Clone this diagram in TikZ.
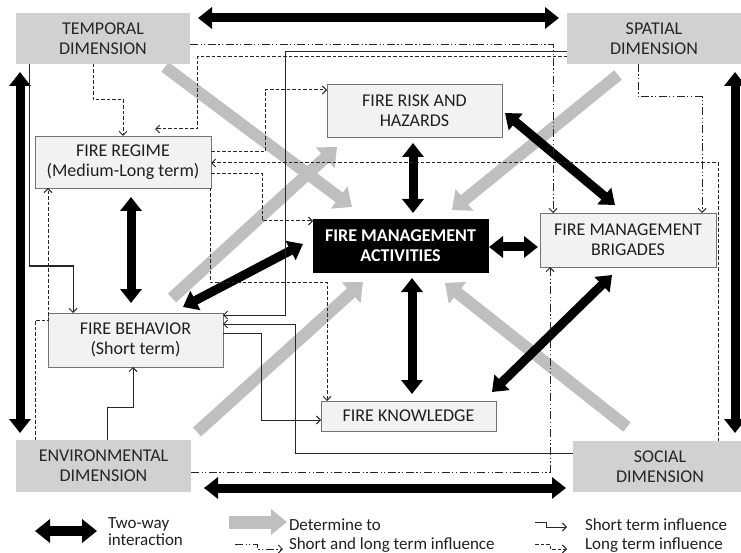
\documentclass[tikz,border=0pt]{standalone}
\usepackage{fontspec}
\setmainfont{Carlito}
\usetikzlibrary{arrows.meta,calc}
\pgfdeclarelayer{bgl}
\pgfdeclarelayer{midl}
\pgfsetlayers{bgl,midl,main}
\begin{document}
\begin{tikzpicture}[x=1pt,y=-1pt,
  font=\fontsize{18}{20}\selectfont,
  dimbox/.style={fill=black!18, draw=none, align=center, inner sep=0pt, outer sep=0pt, text=black!85},
  fbox/.style={fill=black!5, draw=black!55, line width=0.9pt, align=center, inner sep=0pt, outer sep=0pt, text=black!88},
  thinln/.style={draw=black!85, line width=1pt},
  st/.style={thinln, -{Straight Barb[length=4pt,width=8pt]}},
  lt/.style={st, dash pattern=on 3.5pt off 2pt},
  sl/.style={st, dash pattern=on 8pt off 2.5pt on 1.2pt off 2.5pt on 1.2pt off 2.5pt},
  tw/.style={draw=black, line width=9pt, {Triangle[length=14pt,width=21pt]}-{Triangle[length=14pt,width=21pt]}},
  det/.style={draw=black!25, line width=12pt, -{Triangle[length=16pt,width=27pt]}},
  legtxt/.style={font=\fontsize{17}{17}\selectfont, text=black!88, inner sep=0pt, outer sep=0pt}
]
\useasboundingbox (0,0) rectangle (741,553);

% dimension boxes
\node[dimbox, minimum width=174pt, minimum height=51pt] (T) at (103,38.5) {TEMPORAL\\DIMENSION};
\node[dimbox, minimum width=174pt, minimum height=51pt] (S) at (654,38.5) {SPATIAL\\DIMENSION};
\node[dimbox, minimum width=175pt, minimum height=52pt] (E) at (103.5,466) {ENVIRONMENTAL\\DIMENSION};
\node[dimbox, minimum width=174pt, minimum height=51pt] (SO) at (660,466.5) {SOCIAL\\DIMENSION};

% inner boxes
\node[fbox, minimum width=176pt, minimum height=52pt] (REG) at (123,162) {FIRE REGIME\\(Medium-Long term)};
\node[fbox, minimum width=175pt, minimum height=54pt] (BEH) at (135.5,340) {FIRE BEHAVIOR\\(Short term)};
\node[fbox, minimum width=175pt, minimum height=53pt] (R) at (414.5,110.5) {FIRE RISK AND\\HAZARDS};
\node[fill=black, draw=black, text=white, font=\fontsize{18}{20}\selectfont\bfseries, align=center, inner sep=0pt, outer sep=0pt, minimum width=175pt, minimum height=53pt] (ACT) at (400.5,245.5) {FIRE MANAGEMENT\\ACTIVITIES};
\node[fbox, minimum width=176pt, minimum height=54pt] (B) at (628,240) {FIRE MANAGEMENT\\BRIGADES};
\node[fbox, minimum width=175pt, minimum height=30pt] (K) at (408.5,416) {FIRE KNOWLEDGE};

% gray "determine to" arrows
\begin{pgfonlayer}{bgl}
\draw[det] ($(T.south east)+(-25,3)$) -- ($(ACT.north west)+(39,-12)$);
\draw[det] ($(S.south west)+(51,11)$) -- ($(ACT.north east)+(-36,-9)$);
\draw[det] ($(E.north east)+(6,-8)$) -- ($(ACT.south)+(-37.5,10)$);
\draw[det] ($(SO.north)+(-33,-14)$) -- ($(ACT.south east)+(-43,11)$);
\draw[det] ($(BEH.north east)+(-51,-15)$) -- ($(R.south west)+(10,10)$);
\end{pgfonlayer}

% black two-way arrows
\begin{pgfonlayer}{midl}
\draw[tw] ($(T.north east)+(8,5)$) -- ($(S.north west)+(-8,5)$);
\draw[tw] ($(E.south east)+(13,-4)$) -- ($(SO.south west)+(-7,-4)$);
\draw[tw] ($(T.south west)+(4,8)$) -- ($(E.north west)+(4,-7)$);
\draw[tw] ($(S.south east)+(-6,8)$) -- ($(SO.north east)+(-12,-8)$);
\draw[tw] ($(REG.south)+(8,9)$) -- ($(BEH.north)+(-4.5,-10)$);
\draw[tw] ($(R.south)+(-1.5,6)$) -- ($(ACT.north)+(12.5,-6)$);
\draw[tw] ($(ACT.south)+(11.5,6)$) -- ($(K.north)+(3.5,-7)$);
\draw[tw] ($(ACT.east)+(1,1.5)$) -- ($(B.west)+(-2,7)$);
\draw[tw] ($(R.east)+(3,2.5)$) -- ($(B.north)+(-13,-8)$);
\draw[tw] ($(ACT.west)+(-10,-1.5)$) -- ($(BEH.north east)+(-40,-6)$);
\draw[tw] ($(K.north east)+(-4,-9)$) -- ($(B.south)+(-16,8)$);
\end{pgfonlayer}

% short term influence
\draw[st] ($(T.south west)+(13,0)$) -- (29,266) -- (73,266) -- ($(BEH.north west)+(25,0)$);
\draw[st] ($(S.west)+(0,13.5)$) -- (285,52) -- (285,315) -- ($(BEH.north east)+(0,2)$);
\draw[st] ($(SO.west)+(0,-13.5)$) -- (295,453) -- (295,324) -- ($(BEH.north east)+(0,11)$);
\draw[st] ($(BEH.north east)+(0,20)$) -- (261,333) -- (261,420) -- ($(K.west)+(0,4)$);
\draw[st] ($(E.north west)+(91,0)$) -- (107,407) -- (133,407) -- ($(BEH.south west)+(85,0)$);

% long term influence
\draw[lt] ($(T.south west)+(77,0)$) -- (93,100) -- (123,100) -- (REG.north);
\draw[lt] ($(S.west)+(0,18.5)$) -- (197,57) -- (197,129) -- ($(REG.north west)+(120,-7)$);
\draw[lt] ($(REG.north east)+(0,16)$) -- (265,152) -- (265,90) -- ($(R.north west)+(0,6)$);
\draw[lt] ($(REG.north east)+(0,38)$) -- (262,174) -- (262,221) -- ($(ACT.north west)+(0,2)$);
\draw[lt] ($(SO.north west)+(145,0)$) -- (718,163) -- ($(REG.north east)+(0,27)$);
\draw[lt] ($(REG.south east)+(-1,0)$) -- (210,282) -- (327,282) -- ($(K.north west)+(6,0)$);
\draw[lt] ($(E.north west)+(19,0)$) -- (35,320) -- (48,320) -- ($(REG.south west)+(13,0)$);

% short and long term influence
\draw[sl] ($(T.east)+(0,6.5)$) -- (553,45) -- ($(B.north west)+(13,0)$);
\draw[sl] ($(S.south west)+(71,0)$) -- (638,97) -- (702,97) -- ($(B.north west)+(162,0)$);
\draw[sl] ($(E.east)+(0,6)$) -- (550,472) -- ($(B.south west)+(10,0)$);

% legend
\coordinate (L1a) at (35,531);
\coordinate (L1b) at (97,531);
\draw[draw=black, line width=10pt, {Triangle[length=15pt,width=23pt]}-{Triangle[length=15pt,width=23pt]}] (L1a) -- (L1b);
\node[legtxt, anchor=west, align=left] (L1t) at (108,532) {Two-way\\interaction};

\coordinate (L2a) at (229,522);
\coordinate (L2b) at (287,522);
\draw[draw=black!25, line width=13pt, -{Triangle[length=16pt,width=25pt]}] (L2a) -- (L2b);
\node[legtxt, anchor=base west] (L2t) at (289,530) {Determine to};

\coordinate (L3a) at (235,544);
\coordinate (L3b) at (283,549);
\draw[sl] (L3a) -- (257,544) -- (257,549) -- (L3b);
\node[legtxt, anchor=base west] (L3t) at (289,549) {Short and long term influence};

\coordinate (L4a) at (535,522);
\coordinate (L4b) at (567,527);
\draw[st] (L4a) -- (546,522) -- (546,527) -- (L4b);
\node[legtxt, anchor=base west] (L4t) at (585,530) {Short term influence};

\coordinate (L5a) at (535,544);
\coordinate (L5b) at (567,549);
\draw[lt] (L5a) -- (550,544) -- (550,549) -- (L5b);
\node[legtxt, anchor=base west] (L5t) at (585,549) {Long term influence};
\end{tikzpicture}
\end{document}
